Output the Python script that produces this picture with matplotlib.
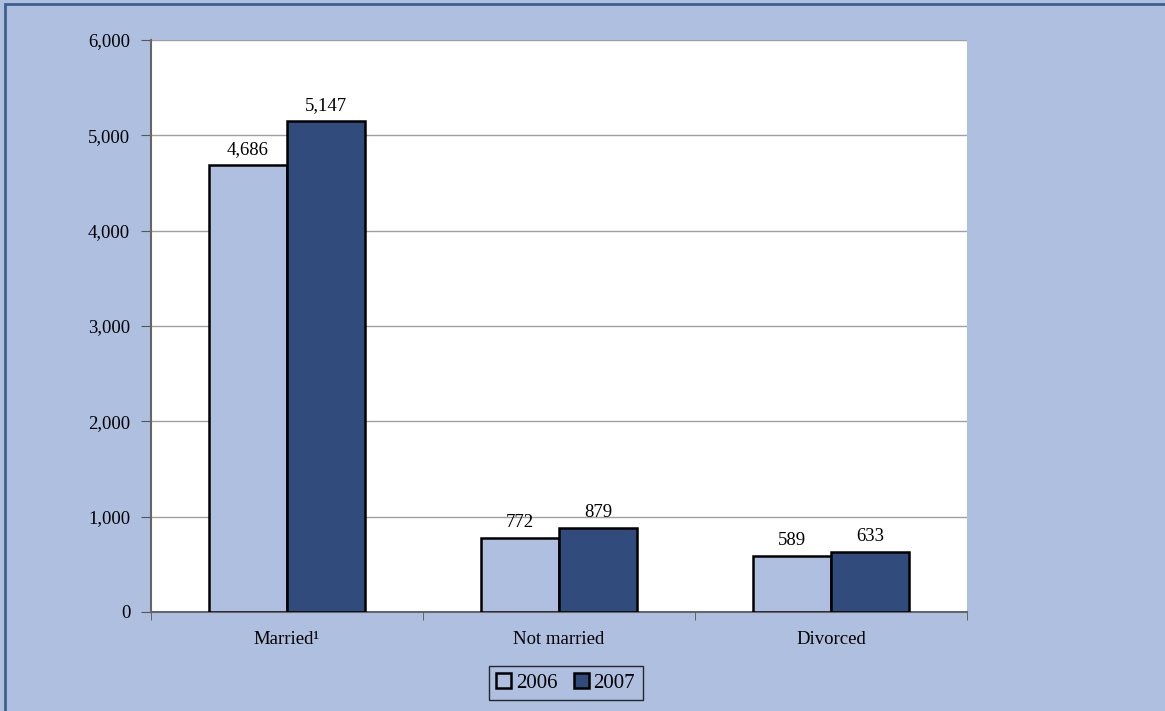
import numpy as np
import matplotlib.pyplot as plt
from matplotlib.patches import Rectangle

categories = ['Married\u00b9', 'Not married', 'Divorced']
series_names = ['2006', '2007']
values_2006 = [4686, 772, 589]
values_2007 = [5147, 879, 633]

bg = '#AFBFDF'
light = '#AFBFDF'
dark = '#314B7C'

plt.rcParams['font.family'] = ['Liberation Serif', 'DejaVu Serif']

fig = plt.figure(figsize=(11.65, 7.11), dpi=100)
fig.patch.set_facecolor(bg)
# chart border (only top and left visible in the reference)
fig.patches.append(Rectangle((5 / 1165, -0.05), 1.2, 1 - 4 / 711 + 0.05,
                             transform=fig.transFigure, fill=False,
                             edgecolor='#3F5F8F', linewidth=2, zorder=10))

ax = fig.add_axes([151 / 1165, 1 - 612 / 711, (967 - 151) / 1165, (612 - 40) / 711])
ax.set_facecolor('white')

x = np.arange(len(categories))
w = 0.287
b1 = ax.bar(x - w / 2, values_2006, w, color=light, edgecolor='black', linewidth=1.8,
            label=series_names[0], zorder=3)
b2 = ax.bar(x + w / 2, values_2007, w, color=dark, edgecolor='black', linewidth=1.8,
            label=series_names[1], zorder=3)

for bars in (b1, b2):
    for r in bars:
        ax.annotate(f'{int(r.get_height()):,}', (r.get_x() + r.get_width() / 2, r.get_height()),
                    xytext=(0, 5), textcoords='offset points', ha='center', va='bottom',
                    fontsize=13.5)

ax.set_xlim(-0.5, 2.5)
ax.set_ylim(0, 6000)
ax.set_yticks(np.arange(0, 6001, 1000))
ax.set_yticklabels([f'{v:,}' for v in range(0, 6001, 1000)], fontsize=13.5)
ax.yaxis.grid(True, color='#A0A0A0', linewidth=1, zorder=0)
ax.set_axisbelow(True)

ax.set_xticks(x)
ax.set_xticklabels(categories, fontsize=13.5)
ax.tick_params(axis='x', length=0, pad=14)
ax.set_xticks([-0.5, 0.5, 1.5, 2.5], minor=True)
ax.tick_params(axis='x', which='minor', length=6, direction='out', color='#555555')
ax.tick_params(axis='y', length=7, direction='out', color='#555555', pad=8)

for s in ['top', 'right']:
    ax.spines[s].set_visible(False)
ax.spines['left'].set_color('#666666')
ax.spines['bottom'].set_color('#666666')
ax.spines['left'].set_linewidth(1.5)
ax.spines['bottom'].set_linewidth(1.5)

leg = ax.legend(loc='upper center', bbox_to_anchor=(0.508, -0.094), ncol=2, fontsize=15,
                frameon=True, fancybox=False, edgecolor='black', facecolor=bg,
                handlelength=0.75, handleheight=0.75, handletextpad=0.2, columnspacing=0.8,
                borderpad=0.35, borderaxespad=0)
leg.get_frame().set_linewidth(1)

fig.savefig('out.png', dpi=100, facecolor=bg)
